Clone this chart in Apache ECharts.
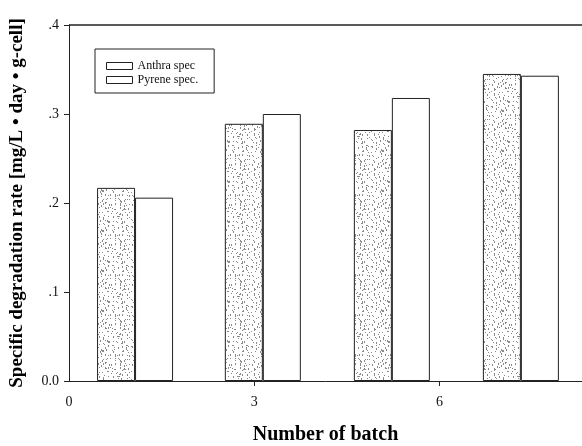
<!DOCTYPE html>
<html>
<head>
<meta charset="utf-8">
<script src="https://cdn.jsdelivr.net/npm/echarts@6/dist/echarts.min.js"></script>
<style>
    html, body {margin: 0; padding: 0; background: #fff;}
    #chart {width: 582px; height: 446px;}
</style>
</head>
<body>
<div id="chart"></div>
<script>
// batch positions (group centres) and rates
var batchPos = [1.07, 3.14, 5.23, 7.32];
var anthraRate = [0.217, 0.289, 0.282, 0.345];
var pyreneRate = [0.206, 0.300, 0.318, 0.343];
var xTicks = [0, 3, 6];
var yTicks = [0, 0.1, 0.2, 0.3, 0.4];

var font = 'Liberation Serif';

// stipple texture for the shaded bars
var stipple = function () {
    var c = document.createElement('canvas');
    c.width = 40;
    c.height = 40;
    var ctx = c.getContext('2d');
    ctx.fillStyle = '#fff';
    ctx.fillRect(0, 0, 40, 40);
    ctx.fillStyle = '#8a8a8a';
    for (var i = 0; i < 170; i++) {
        var x = (i * 37 + (i * i) % 11) % 40;
        var y = (i * 53 + (i * i * 3) % 13) % 40;
        ctx.fillRect(x, y, 1, 1 + (i % 3 === 0 ? 1 : 0));
    }
    return c;
};

var pair = function (xs, ys) {
    var out = [];
    for (var i = 0; i < xs.length; i++) {
        out.push([xs[i], ys[i]]);
    }
    return out;
};

var myChart = echarts.init(document.getElementById('chart'));
var option = {
    animation: false,
    backgroundColor: '#fff',
    grid: {left: 69, right: 0, top: 25, bottom: 65, outerBoundsMode: 'none', containLabel: false},
    legend: {
        left: 95,
        top: 49,
        orient: 'vertical',
        borderColor: '#222',
        borderWidth: 1,
        borderRadius: 0,
        padding: [11, 16, 7, 11],
        itemWidth: 26,
        itemHeight: 7,
        itemGap: 2,
        textStyle: {fontFamily: font, fontSize: 12, color: '#111'},
        data: [
            {name: 'Anthra spec', icon: 'rect', itemStyle: {color: '#fff', borderColor: '#222', borderWidth: 1}},
            {name: 'Pyrene spec.', icon: 'rect', itemStyle: {color: '#fff', borderColor: '#222', borderWidth: 1}}
        ]
    },
    xAxis: {
        type: 'value',
        min: 0,
        max: 8.31,
        name: 'Number of batch',
        nameLocation: 'middle',
        nameGap: 44,
        nameTextStyle: {fontFamily: font, fontSize: 20, fontWeight: 'bold', color: '#000'},
        splitLine: {show: false},
        axisLine: {lineStyle: {color: '#222', width: 1}},
        axisTick: {customValues: [3, 6], length: 5, lineStyle: {color: '#222'}},
        axisLabel: {customValues: xTicks, margin: 14, fontFamily: font, fontSize: 14, color: '#111'}
    },
    yAxis: {
        type: 'value',
        min: 0,
        max: 0.4,
        interval: 0.1,
        name: 'Specific degradation rate [mg/L • day • g-cell]',
        nameLocation: 'middle',
        nameRotate: 90,
        nameGap: 42,
        nameTextStyle: {fontFamily: font, fontSize: 19, fontWeight: 'bold', color: '#000'},
        splitLine: {show: false},
        axisLine: {show: true, lineStyle: {color: '#222', width: 1}},
        axisTick: {show: true, length: 5, lineStyle: {color: '#222'}},
        axisLabel: {
            margin: 10,
            fontFamily: font,
            fontSize: 14,
            color: '#111',
            formatter: function (v) {
                if (v === 0) {
                    return '0.0';
                }
                return '.' + Math.round(v * 10);
            }
        }
    },
    series: [
        {
            name: 'Anthra spec',
            type: 'bar',
            barWidth: 38,
            barGap: '0%',
            itemStyle: {
                color: {image: stipple(), repeat: 'repeat'},
                borderColor: '#222',
                borderWidth: 1
            },
            data: pair(batchPos, anthraRate)
        },
        {
            name: 'Pyrene spec.',
            type: 'bar',
            barWidth: 38,
            barGap: '0%',
            itemStyle: {color: '#fff', borderColor: '#222', borderWidth: 1},
            markLine: {
                silent: true,
                symbol: 'none',
                label: {show: false},
                lineStyle: {color: '#222', width: 1.5, type: 'solid'},
                data: [{yAxis: yTicks[yTicks.length - 1]}]
            },
            data: pair(batchPos, pyreneRate)
        }
    ]
};
myChart.setOption(option);
</script>
</body>
</html>
